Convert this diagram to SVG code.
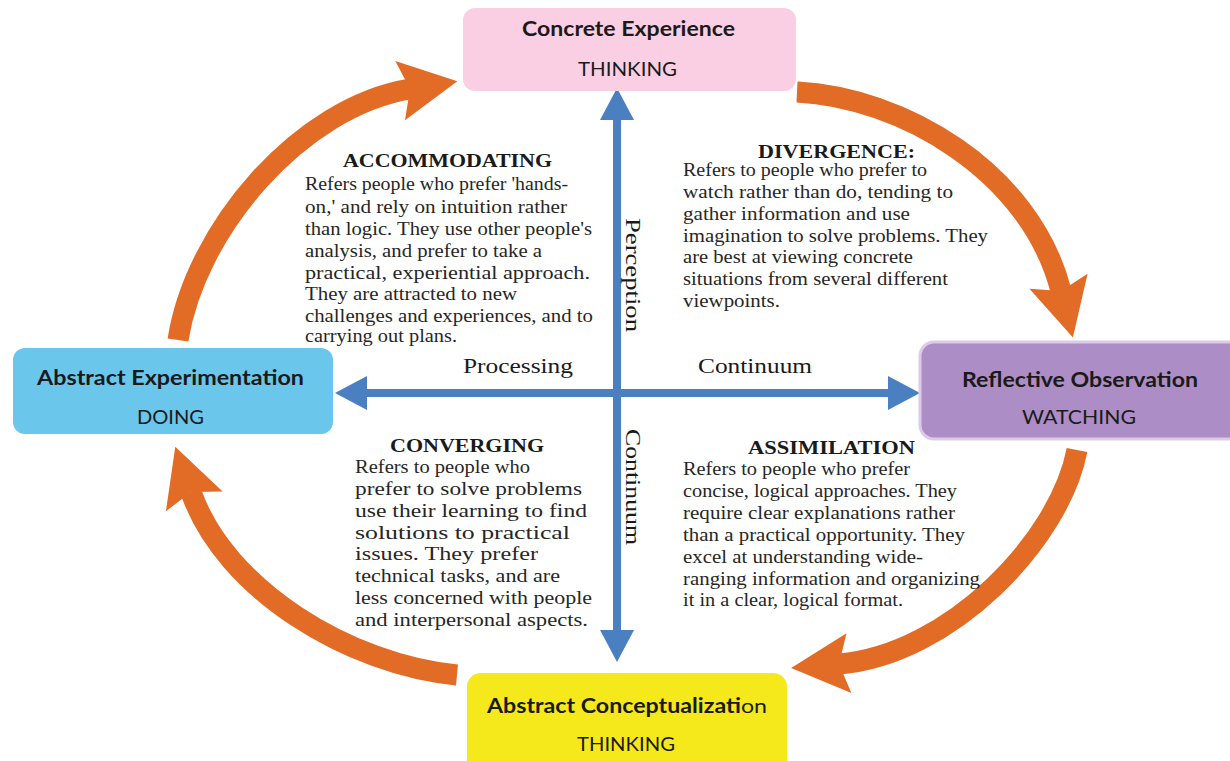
<svg xmlns="http://www.w3.org/2000/svg" width="1230" height="761" viewBox="0 0 1230 761">
  <defs>
    <style>
      .node-title { font-family: Lato, "Open Sans", sans-serif; font-weight: 700; font-size: 20px; fill: #1a1a1a; }
      .node-sub { font-family: Lato, "Open Sans", sans-serif; font-weight: 400; font-size: 19px; fill: #1a1a1a; }
      .head { font-family: "Liberation Serif", "Times New Roman", serif; font-weight: 700; font-size: 18.5px; fill: #1a1a1a; }
      .body { font-family: "Liberation Serif", "Times New Roman", serif; font-size: 18.5px; fill: #262626; }
      .axis-label { font-family: "Liberation Serif", "Times New Roman", serif; font-size: 21px; fill: #1a1a1a; }
      .cycle { fill: none; stroke: #e26b26; stroke-width: 21; stroke-linecap: butt; }
      .axis { fill: none; stroke: #4a7fc2; stroke-width: 8; }
    </style>
    <marker id="cycle-head" markerUnits="userSpaceOnUse" markerWidth="60" markerHeight="62" refX="10" refY="30" orient="auto" overflow="visible">
      <path d="M0,0 L58,30 L0,60 L10,30 Z" fill="#e26b26"/>
    </marker>
    <marker id="axis-head" markerUnits="userSpaceOnUse" markerWidth="34" markerHeight="34" refX="17" refY="17" orient="auto-start-reverse" overflow="visible">
      <path d="M0,0 L32,17 L0,34 Z" fill="#4a7fc2"/>
    </marker>
  </defs>

  <rect width="1230" height="761" fill="#ffffff"/>

  <!-- connectors: the learning cycle and the two axes -->
  <g id="connectors">
    <path class="cycle" d="M178,340 C195,230 300,107 410,89" marker-end="url(#cycle-head)"/>
    <path class="cycle" d="M797,92 C900,97 1030,170 1061,291" marker-end="url(#cycle-head)"/>
    <path class="cycle" d="M1077,450 C1060,540 950,655 839,664" marker-end="url(#cycle-head)"/>
    <path class="cycle" d="M457,675 C350,665 225,590 191,492" marker-end="url(#cycle-head)"/>
    <path class="axis" d="M617,103 L617,647" marker-start="url(#axis-head)" marker-end="url(#axis-head)"/>
    <path class="axis" d="M350,393 L905,393" marker-start="url(#axis-head)" marker-end="url(#axis-head)"/>
  </g>

  <!-- axis labels -->
  <g id="axis-labels">
    <text class="axis-label" x="463" y="373" textLength="110" lengthAdjust="spacingAndGlyphs">Processing</text>
    <text class="axis-label" x="698" y="373" textLength="114" lengthAdjust="spacingAndGlyphs">Continuum</text>
    <text class="axis-label" transform="translate(632,275) rotate(90)" x="0" y="6" text-anchor="middle" textLength="114" lengthAdjust="spacingAndGlyphs">Perception</text>
    <text class="axis-label" transform="translate(632,487) rotate(90)" x="0" y="6" text-anchor="middle" textLength="116" lengthAdjust="spacingAndGlyphs">Continuum</text>
  </g>

  <!-- nodes -->
  <g id="concrete-experience">
    <rect x="463" y="8" width="333" height="83" rx="12" fill="#fbcfe3"/>
    <text class="node-title" x="522" y="36" textLength="213" lengthAdjust="spacingAndGlyphs">Concrete Experience</text>
    <text class="node-sub" x="578" y="76" textLength="99" lengthAdjust="spacingAndGlyphs">THINKING</text>
  </g>

  <g id="abstract-experimentation">
    <rect x="13" y="348" width="320" height="86" rx="12" fill="#6bc6ec"/>
    <text class="node-title" x="37" y="385" textLength="267" lengthAdjust="spacingAndGlyphs">Abstract Experimentation</text>
    <text class="node-sub" x="137" y="424" textLength="67" lengthAdjust="spacingAndGlyphs">DOING</text>
  </g>

  <g id="reflective-observation">
    <rect x="920" y="342" width="330" height="97" rx="14" fill="#ad8dc5" stroke="#dccbe8" stroke-width="3"/>
    <text class="node-title" x="962" y="387" textLength="236" lengthAdjust="spacingAndGlyphs">Reflective Observation</text>
    <text class="node-sub" x="1022" y="424" textLength="114" lengthAdjust="spacingAndGlyphs">WATCHING</text>
  </g>

  <g id="abstract-conceptualization">
    <rect x="467" y="673" width="320" height="110" rx="14" fill="#f5e81b"/>
    <text class="node-title" x="487" y="713" textLength="280" lengthAdjust="spacingAndGlyphs">Abstract Conceptualizati<tspan font-weight="400">on</tspan></text>
    <text class="node-sub" x="577" y="751" textLength="98" lengthAdjust="spacingAndGlyphs">THINKING</text>
  </g>

  <!-- quadrant descriptions -->
  <g id="accommodating">
    <text class="head" x="343" y="167" textLength="209" lengthAdjust="spacingAndGlyphs">ACCOMMODATING</text>
    <text class="body" x="305" y="190" textLength="263" lengthAdjust="spacingAndGlyphs">Refers people who prefer 'hands-</text>
    <text class="body" x="305" y="213" textLength="262" lengthAdjust="spacingAndGlyphs">on,' and rely on intuition rather</text>
    <text class="body" x="305" y="235" textLength="287" lengthAdjust="spacingAndGlyphs">than logic. They use other people's</text>
    <text class="body" x="305" y="257" textLength="237" lengthAdjust="spacingAndGlyphs">analysis, and prefer to take a</text>
    <text class="body" x="305" y="279" textLength="285" lengthAdjust="spacingAndGlyphs">practical, experiential approach.</text>
    <text class="body" x="305" y="300" textLength="212" lengthAdjust="spacingAndGlyphs">They are attracted to new</text>
    <text class="body" x="305" y="322" textLength="288" lengthAdjust="spacingAndGlyphs">challenges and experiences, and to</text>
    <text class="body" x="305" y="342" textLength="152" lengthAdjust="spacingAndGlyphs">carrying out plans.</text>
  </g>

  <g id="divergence">
    <text class="head" x="758" y="158" textLength="157" lengthAdjust="spacingAndGlyphs">DIVERGENCE:</text>
    <text class="body" x="683" y="176" textLength="244" lengthAdjust="spacingAndGlyphs">Refers to people who prefer to</text>
    <text class="body" x="683" y="198" textLength="270" lengthAdjust="spacingAndGlyphs">watch rather than do, tending to</text>
    <text class="body" x="683" y="220" textLength="227" lengthAdjust="spacingAndGlyphs">gather information and use</text>
    <text class="body" x="683" y="242" textLength="305" lengthAdjust="spacingAndGlyphs">imagination to solve problems. They</text>
    <text class="body" x="683" y="263" textLength="230" lengthAdjust="spacingAndGlyphs">are best at viewing concrete</text>
    <text class="body" x="683" y="285" textLength="265" lengthAdjust="spacingAndGlyphs">situations from several different</text>
    <text class="body" x="683" y="307" textLength="97" lengthAdjust="spacingAndGlyphs">viewpoints.</text>
  </g>

  <g id="converging">
    <text class="head" x="390" y="452" textLength="154" lengthAdjust="spacingAndGlyphs">CONVERGING</text>
    <text class="body" x="355" y="473" textLength="175" lengthAdjust="spacingAndGlyphs">Refers to people who</text>
    <text class="body" x="355" y="495" textLength="227" lengthAdjust="spacingAndGlyphs">prefer to solve problems</text>
    <text class="body" x="355" y="517" textLength="232" lengthAdjust="spacingAndGlyphs">use their learning to find</text>
    <text class="body" x="355" y="539" textLength="215" lengthAdjust="spacingAndGlyphs">solutions to practical</text>
    <text class="body" x="355" y="560" textLength="183" lengthAdjust="spacingAndGlyphs">issues. They prefer</text>
    <text class="body" x="355" y="582" textLength="205" lengthAdjust="spacingAndGlyphs">technical tasks, and are</text>
    <text class="body" x="355" y="604" textLength="237" lengthAdjust="spacingAndGlyphs">less concerned with people</text>
    <text class="body" x="355" y="626" textLength="233" lengthAdjust="spacingAndGlyphs">and interpersonal aspects.</text>
  </g>

  <g id="assimilation">
    <text class="head" x="748" y="454" textLength="167" lengthAdjust="spacingAndGlyphs">ASSIMILATION</text>
    <text class="body" x="683" y="475" textLength="227" lengthAdjust="spacingAndGlyphs">Refers to people who prefer</text>
    <text class="body" x="683" y="497" textLength="274" lengthAdjust="spacingAndGlyphs">concise, logical approaches. They</text>
    <text class="body" x="683" y="519" textLength="272" lengthAdjust="spacingAndGlyphs">require clear explanations rather</text>
    <text class="body" x="683" y="541" textLength="282" lengthAdjust="spacingAndGlyphs">than a practical opportunity. They</text>
    <text class="body" x="683" y="563" textLength="240" lengthAdjust="spacingAndGlyphs">excel at understanding wide-</text>
    <text class="body" x="683" y="585" textLength="297" lengthAdjust="spacingAndGlyphs">ranging information and organizing</text>
    <text class="body" x="683" y="606" textLength="220" lengthAdjust="spacingAndGlyphs">it in a clear, logical format.</text>
  </g>
</svg>
